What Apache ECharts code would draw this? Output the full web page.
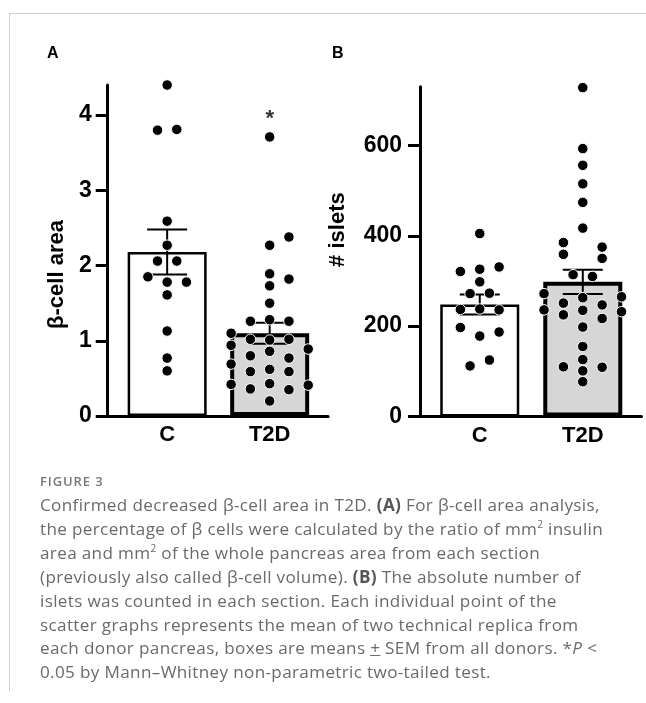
<!DOCTYPE html>
<html>
<head>
<meta charset="utf-8">
<script src="https://cdn.jsdelivr.net/npm/echarts@6/dist/echarts.min.js"></script>
<style>
  html, body { margin: 0; padding: 0; background: #fff; }
  #page { position: relative; width: 646px; height: 703px; overflow: hidden; }
  #frame { position: absolute; left: 9px; top: 13px; width: 660px; height: 677px;
           border-top: 1px solid #cfcfcf; border-left: 1px solid #cfcfcf; }
  #chart { position: absolute; left: 0; top: 0; width: 646px; height: 470px; }
  #caption { position: absolute; left: 40px; top: 469px; font-family: "Open Sans", sans-serif;
             color: #6a6a6a; white-space: nowrap; }
  #caption .fig { font-size: 13px; line-height: 24px; font-weight: 600; letter-spacing: 0.9px; color: #777; }
  #caption .txt { font-size: 17.1px; line-height: 23.9px; letter-spacing: 0.35px; }
  #caption b { font-weight: 700; color: #555; }
  #caption sup { font-size: 10px; line-height: 0; }
</style>
</head>
<body>
<div id="page">
  <div id="frame"></div>
  <div id="chart"></div>
  <div id="caption">
    <div class="fig">FIGURE 3</div>
    <div class="txt">Confirmed decreased β-cell area in T2D. <b>(A)</b> For β-cell area analysis,<br>the percentage of β cells were calculated by the ratio of mm<sup>2</sup> insulin<br>area and mm<sup>2</sup> of the whole pancreas area from each section<br>(previously also called β-cell volume). <b>(B)</b> The absolute number of<br>islets was counted in each section. Each individual point of the<br>scatter graphs represents the mean of two technical replica from<br>each donor pancreas, boxes are means <u>+</u> SEM from all donors. *<i>P</i> &lt;<br>0.05 by Mann–Whitney non-parametric two-tailed test.</div>
  </div>
</div>
<script>
// groups
const groups = ['C', 'T2D'];

// A: beta-cell area
const areaC = [4.40, 3.80, 3.81, 2.59, 2.27, 2.06, 2.06, 1.85, 1.78, 1.78, 1.61, 1.13, 0.77, 0.60];
const areaCSlot = [0, -1, 1, 0, 0, -1, 1, -2, 0, 2, 0, 0, 0, 0];
const areaT2D = [3.71, 2.38, 2.27, 1.89, 1.82, 1.73, 1.50, 1.26, 1.28, 1.26, 1.10, 1.02, 1.01, 1.02, 0.94,
                 0.89, 0.86, 0.80, 0.77, 0.69, 0.62, 0.59, 0.59, 0.43, 0.42, 0.41, 0.36, 0.35, 0.20];
const areaT2DSlot = [0, 2, 0, 0, 2, 0, 0, -2, 0, 2, -4, -2, 0, 2, -4,
                     4, 0, -2, 2, -4, 0, -2, 2, 0, -4, 4, -2, 2, 0];
const areaMean = [2.18, 1.10];
const areaSem = [0.30, 0.14];
const areaTicks = [0, 1, 2, 3, 4];

// B: number of islets
const isletC = [405, 321, 326, 331, 298, 272, 273, 237, 238, 236, 197, 187, 178, 112, 125];
const isletCSlot = [0, -2, 0, 2, 0, -1, 1, -2, 0, 2, -2, 2, 0, -1, 1];
const isletT2D = [728, 593, 556, 515, 474, 417, 385, 375, 359, 350, 314, 310, 272, 265, 263,
                  251, 247, 236, 235, 232, 225, 217, 198, 155, 126, 110, 109, 101, 77];
const isletT2DSlot = [0, 0, 0, 0, 0, 0, -2, 2, -2, 2, -1, 1, -4, 4, 0,
                      -2, 2, -4, 0, 4, -2, 2, 0, 0, 0, -2, 2, 0, 0];
const isletMean = [248, 298];
const isletSem = [22, 27];
const isletTicks = [0, 200, 400, 600];

// significance mark (A, T2D)
const starA = [[1, 3.95]];

const FONT = '"Liberation Sans", Arial, sans-serif';
const SLOT = 0.094;

const chart = echarts.init(document.getElementById('chart'));

function pts(vals, slots, gi) {
  return vals.map((v, i) => [gi + slots[i] * SLOT, v]);
}

function xAxisFor(idx) {
  return {
    type: 'value', gridIndex: idx, min: -0.58, max: 1.57,
    splitLine: { show: false },
    axisLine: { onZero: false, lineStyle: { color: '#000', width: 3 } },
    axisTick: { show: false },
    axisLabel: {
      customValues: [0, 1], formatter: v => groups[v],
      color: '#000', fontFamily: FONT, fontWeight: 'bold', fontSize: 22, margin: 8
    }
  };
}

function yAxisFor(idx, max, ticks, name, gap, pad, margin) {
  return {
    type: 'value', gridIndex: idx, min: 0, max: max,
    name: name, nameLocation: 'middle', nameGap: gap, nameRotate: 90,
    nameTextStyle: { color: '#000', fontFamily: FONT, fontWeight: 'bold', fontSize: 22, padding: pad },
    splitLine: { show: false },
    axisLine: { onZero: false, lineStyle: { color: '#000', width: 3 } },
    axisTick: { customValues: ticks, length: 12, lineStyle: { color: '#000', width: 3 } },
    axisLabel: { customValues: ticks, color: '#000', fontFamily: FONT, fontWeight: 'bold', fontSize: 23, margin: margin }
  };
}

function barSeries(idx, mean) {
  return {
    type: 'bar', xAxisIndex: idx, yAxisIndex: idx, barWidth: 79, z: 2,
    data: mean.map((m, i) => ({
      value: [i, m],
      itemStyle: i === 0
        ? { color: '#fff', borderColor: '#000', borderWidth: 2.5 }
        : { color: '#d6d6d6', borderColor: '#000', borderWidth: 4 }
    }))
  };
}

function errSeries(idx, mean, sem) {
  return {
    type: 'custom', xAxisIndex: idx, yAxisIndex: idx, z: 3,
    data: mean.map((m, i) => [i, m, sem[i]]),
    renderItem(params, api) {
      const x = api.value(0), m = api.value(1), s = api.value(2);
      const top = api.coord([x, m + s]);
      const bot = api.coord([x, m - s]);
      const w = 20;
      const st = { stroke: '#000', lineWidth: 2 };
      return {
        type: 'group',
        children: [
          { type: 'line', shape: { x1: top[0], y1: top[1], x2: bot[0], y2: bot[1] }, style: st },
          { type: 'line', shape: { x1: top[0] - w, y1: top[1], x2: top[0] + w, y2: top[1] }, style: st },
          { type: 'line', shape: { x1: bot[0] - w, y1: bot[1], x2: bot[0] + w, y2: bot[1] }, style: st }
        ]
      };
    }
  };
}

function dotSeries(idx, data) {
  return {
    type: 'scatter', xAxisIndex: idx, yAxisIndex: idx, z: 4,
    symbolSize: 10.5,
    itemStyle: { color: '#000', borderColor: '#fff', borderWidth: 1, opacity: 1 },
    data: data
  };
}

chart.setOption({
  animation: false,
  backgroundColor: 'transparent',
  title: [
    { text: 'A', left: 42, top: 41, textStyle: { fontFamily: FONT, fontWeight: 'bold', fontSize: 16, color: '#000' } },
    { text: 'B', left: 327, top: 41, textStyle: { fontFamily: FONT, fontWeight: 'bold', fontSize: 16, color: '#000' } }
  ],
  grid: [
    { left: 107.7, top: 85, width: 220.4, height: 331 },
    { left: 420, top: 86.7, width: 221.5, height: 329.8 }
  ],
  xAxis: [xAxisFor(0), xAxisFor(1)],
  yAxis: [
    yAxisFor(0, 4.4, areaTicks, 'β-cell area', 40, [0, 48, 0, 0], 16),
    yAxisFor(1, 730, isletTicks, '# islets', 71, [0, 0, 0, 44], 18)
  ],
  series: [
    barSeries(0, areaMean),
    errSeries(0, areaMean, areaSem),
    dotSeries(0, pts(areaC, areaCSlot, 0).concat(pts(areaT2D, areaT2DSlot, 1))),
    {
      type: 'scatter', xAxisIndex: 0, yAxisIndex: 0, z: 5, symbolSize: 1,
      itemStyle: { color: 'transparent' },
      label: { show: true, position: 'inside', formatter: '*', color: '#000',
               fontFamily: FONT, fontWeight: 'bold', fontSize: 22 },
      data: starA
    },
    barSeries(1, isletMean),
    errSeries(1, isletMean, isletSem),
    dotSeries(1, pts(isletC, isletCSlot, 0).concat(pts(isletT2D, isletT2DSlot, 1)))
  ]
});
</script>
</body>
</html>
